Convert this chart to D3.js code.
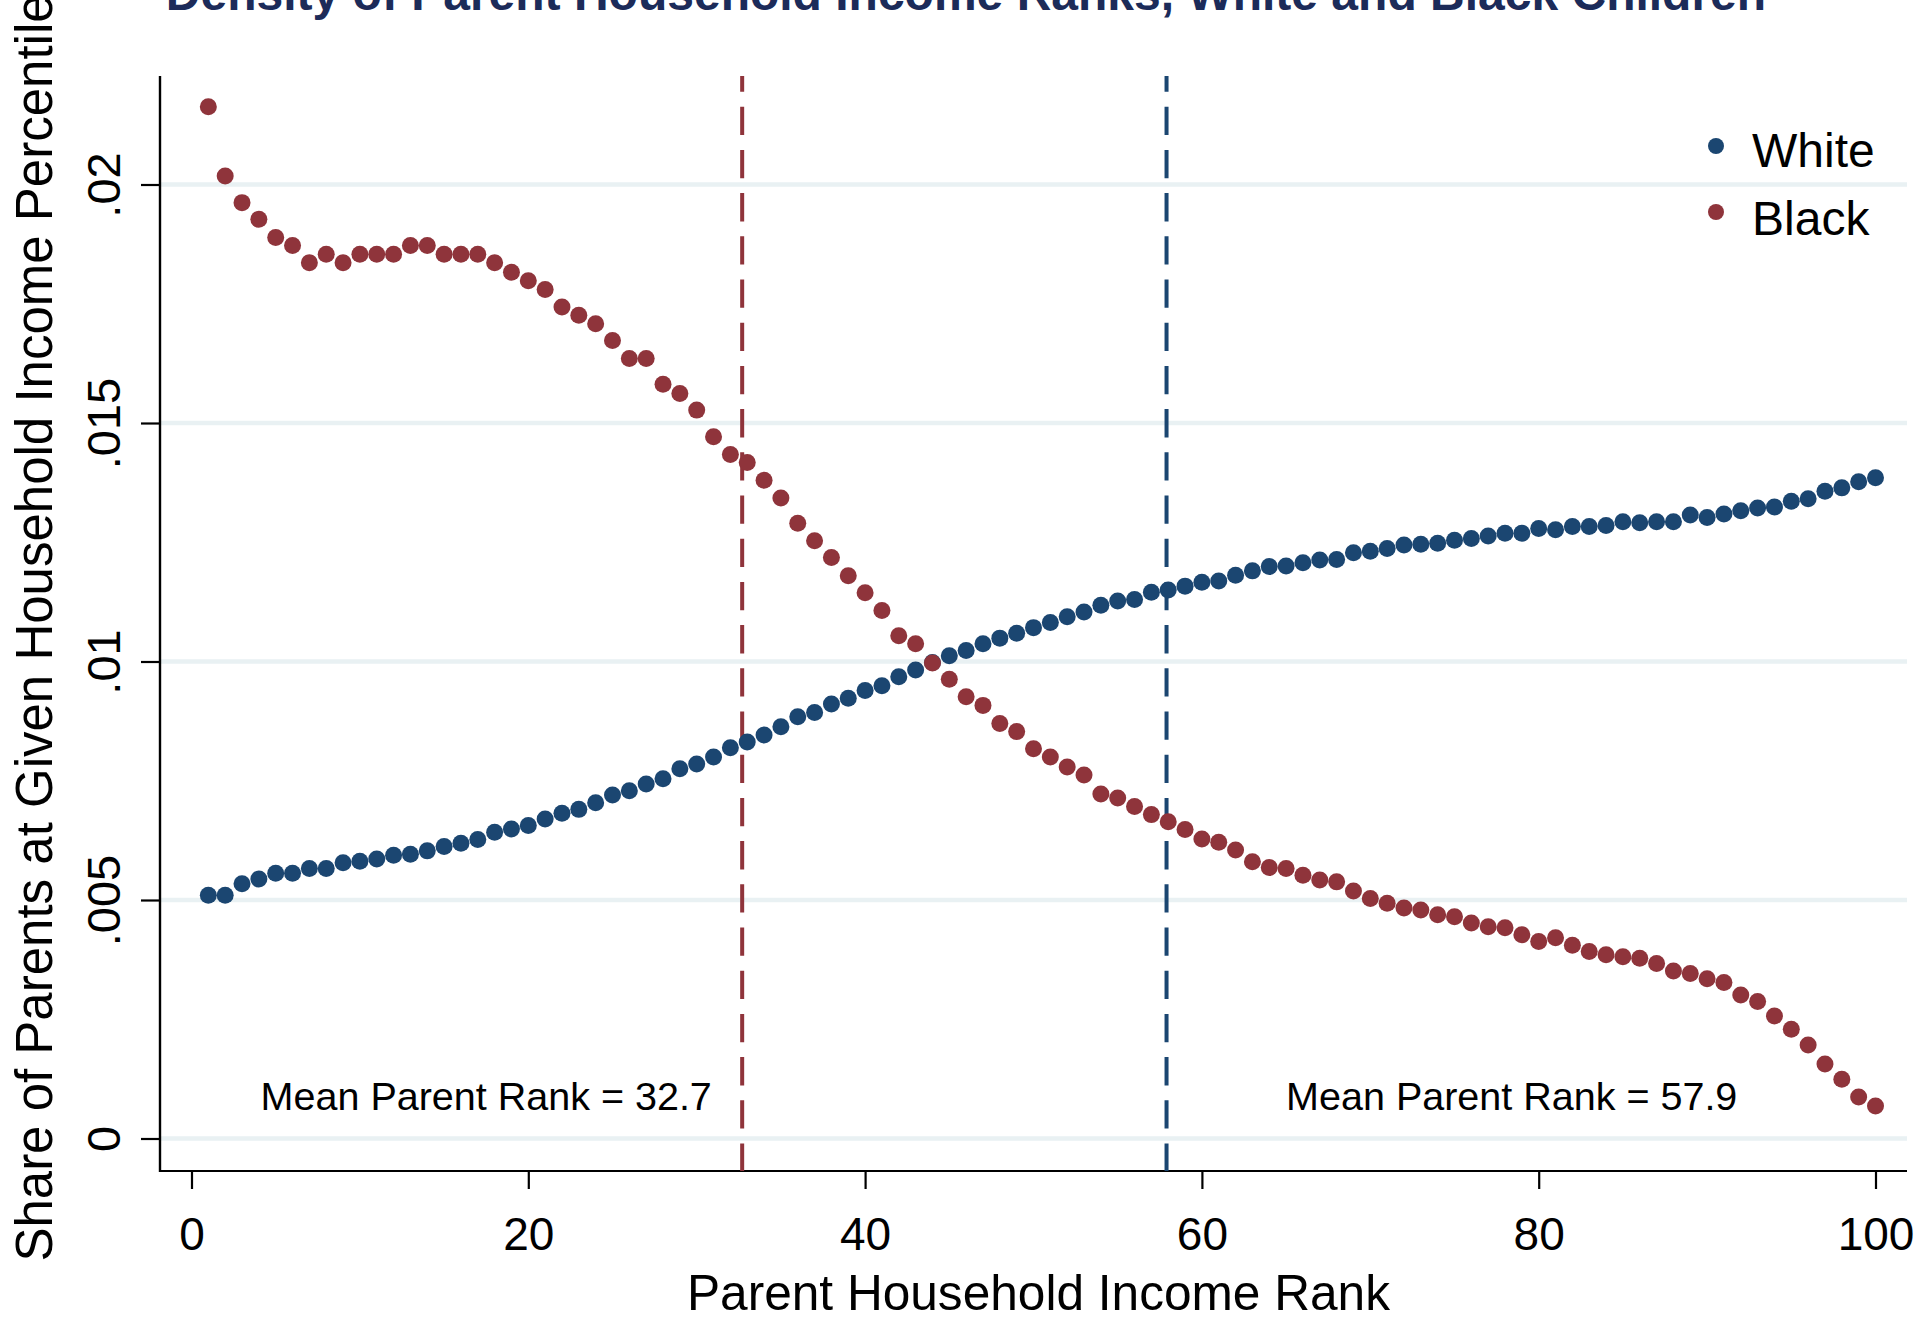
<!DOCTYPE html>
<html>
<head>
<meta charset="utf-8">
<script src="https://cdn.jsdelivr.net/npm/d3@7"></script>
<style>
  html, body { margin: 0; padding: 0; background: #fff; }
  svg { display: block; font-family: "Liberation Sans", Arial, sans-serif; }
</style>
</head>
<body>
<svg id="chart" width="1929" height="1322"></svg>
<script>
const titleText = "Density of Parent Household Income Ranks, White and Black Children";
const xAxisTitle = "Parent Household Income Rank";
const yAxisTitle = "Share of Parents at Given Household Income Percentile";

const ranks = d3.range(1, 101);

const whiteShare = [
  0.00510, 0.00510, 0.00534, 0.00544, 0.00556, 0.00556, 0.00566, 0.00566, 0.00578, 0.00581,
  0.00586, 0.00594, 0.00596, 0.00603, 0.00612, 0.00619, 0.00627, 0.00642, 0.00649, 0.00656,
  0.00670, 0.00682, 0.00690, 0.00704, 0.00720, 0.00729, 0.00743, 0.00754, 0.00775, 0.00785,
  0.00800, 0.00819, 0.00831, 0.00846, 0.00863, 0.00884, 0.00893, 0.00911, 0.00923, 0.00939,
  0.00949, 0.00968, 0.00982, 0.00998, 0.01012, 0.01023, 0.01037, 0.01049, 0.01059, 0.01071,
  0.01082, 0.01094, 0.01104, 0.01118, 0.01127, 0.01130, 0.01145, 0.01150, 0.01158, 0.01166,
  0.01169, 0.01181, 0.01190, 0.01199, 0.01200, 0.01207, 0.01213, 0.01214, 0.01228, 0.01231,
  0.01237, 0.01244, 0.01246, 0.01248, 0.01254, 0.01258, 0.01263, 0.01269, 0.01269, 0.01279,
  0.01276, 0.01283, 0.01283, 0.01285, 0.01293, 0.01291, 0.01293, 0.01293, 0.01307, 0.01302,
  0.01309, 0.01316, 0.01322, 0.01324, 0.01336, 0.01341, 0.01357, 0.01364, 0.01377, 0.01385
];

const blackShare = [
  0.02163, 0.02018, 0.01962, 0.01927, 0.01889, 0.01872, 0.01836, 0.01854, 0.01836, 0.01854,
  0.01854, 0.01854, 0.01872, 0.01872, 0.01854, 0.01854, 0.01854, 0.01836, 0.01816, 0.01798,
  0.01780, 0.01743, 0.01726, 0.01708, 0.01673, 0.01635, 0.01635, 0.01581, 0.01562, 0.01527,
  0.01471, 0.01434, 0.01417, 0.01380, 0.01343, 0.01290, 0.01253, 0.01218, 0.01180, 0.01144,
  0.01107, 0.01054, 0.01037, 0.00997, 0.00963, 0.00926, 0.00908, 0.00870, 0.00853, 0.00817,
  0.00800, 0.00779, 0.00762, 0.00722, 0.00714, 0.00696, 0.00679, 0.00664, 0.00648, 0.00628,
  0.00621, 0.00605, 0.00580, 0.00568, 0.00566, 0.00552, 0.00542, 0.00538, 0.00519, 0.00503,
  0.00493, 0.00483, 0.00479, 0.00469, 0.00465, 0.00452, 0.00444, 0.00442, 0.00427, 0.00413,
  0.00421, 0.00405, 0.00392, 0.00385, 0.00381, 0.00378, 0.00367, 0.00351, 0.00346, 0.00335,
  0.00327, 0.00301, 0.00287, 0.00257, 0.00229, 0.00196, 0.00156, 0.00124, 0.00087, 0.00068
];

const seriesNames = ["White", "Black"];
const seriesColors = ["#1b4671", "#8f343b"];

const meanRanks = [57.9, 32.7];            // White, Black
const meanLabels = ["Mean Parent Rank = 57.9", "Mean Parent Rank = 32.7"];
const meanLabelX = [65.0, 30.9];           // label anchor in rank units
const meanLabelAnchor = ["start", "end"];
const meanLabelY = 0.0006;

const xTicks = [0, 20, 40, 60, 80, 100];
const yTicks = [0, 0.005, 0.01, 0.015, 0.02];
const yTickLabels = ["0", ".005", ".01", ".015", ".02"];

// ---------- layout ----------
const frameLeft = 160, frameRight = 1907, frameTop = 76, frameBottom = 1171;
const x = d3.scaleLinear().domain([0, 100]).range([191.5, 1875.5]);
const y = d3.scaleLinear().domain([0, 0.02]).range([1138.5, 184.5]);

const svg = d3.select("#chart");
svg.append("rect").attr("width", 1929).attr("height", 1322).attr("fill", "#fff");

// gridlines
svg.append("g").selectAll("line").data(yTicks).join("line")
  .attr("x1", frameLeft).attr("x2", frameRight)
  .attr("y1", d => y(d)).attr("y2", d => y(d))
  .attr("stroke", "#e9f1f3").attr("stroke-width", 4.3);

// axes
const xAxis = d3.axisBottom(x).tickValues(xTicks).tickSize(18).tickPadding(8).tickFormat(d3.format("d"));
const gx = svg.append("g").attr("transform", `translate(0,${frameBottom})`).call(xAxis);
gx.select(".domain").remove();
gx.selectAll(".tick line").attr("stroke", "#000").attr("stroke-width", 2.2);
gx.selectAll(".tick text").attr("font-size", 46).attr("fill", "#000")
  .attr("font-family", "Liberation Sans, Arial, sans-serif")
  .attr("dy", null).attr("y", 79);

const yAxis = d3.axisLeft(y).tickValues(yTicks).tickSize(19).tickFormat((d, i) => yTickLabels[i]);
const gy = svg.append("g").attr("transform", `translate(${frameLeft},0)`).call(yAxis);
gy.select(".domain").remove();
gy.selectAll(".tick line").attr("stroke", "#000").attr("stroke-width", 2.2);
gy.selectAll(".tick text")
  .attr("font-size", 47).attr("fill", "#000")
  .attr("font-family", "Liberation Sans, Arial, sans-serif")
  .attr("x", null).attr("dy", null)
  .attr("text-anchor", "middle")
  .attr("transform", "translate(-40,0) rotate(-90)");

// frame lines
svg.append("line").attr("x1", frameLeft).attr("x2", frameLeft)
  .attr("y1", frameTop).attr("y2", frameBottom + 1)
  .attr("stroke", "#000").attr("stroke-width", 2.4);
svg.append("line").attr("x1", frameLeft - 1).attr("x2", frameRight)
  .attr("y1", frameBottom).attr("y2", frameBottom)
  .attr("stroke", "#000").attr("stroke-width", 2.2);

// mean rank dashed lines
svg.append("g").selectAll("line").data(meanRanks).join("line")
  .attr("x1", d => x(d)).attr("x2", d => x(d))
  .attr("y1", frameTop).attr("y2", frameBottom)
  .attr("stroke", (d, i) => seriesColors[i])
  .attr("stroke-width", 4)
  .attr("stroke-dasharray", "28.3,14.9")
  .attr("stroke-dashoffset", 12.5);

// points
const seriesData = [whiteShare, blackShare];
seriesData.forEach((vals, s) => {
  svg.append("g").selectAll("circle").data(ranks).join("circle")
    .attr("cx", d => x(d))
    .attr("cy", (d, i) => y(vals[i]))
    .attr("r", 8.5)
    .attr("fill", seriesColors[s]);
});

// mean annotations
svg.append("g").selectAll("text").data(meanLabels).join("text")
  .attr("x", (d, i) => x(meanLabelX[i]))
  .attr("y", y(meanLabelY))
  .attr("text-anchor", (d, i) => meanLabelAnchor[i])
  .attr("font-size", 39.5).attr("fill", "#000")
  .text(d => d);

// legend
const legend = svg.append("g");
seriesNames.forEach((name, i) => {
  legend.append("circle").attr("cx", 1716).attr("cy", 146 + i * 66).attr("r", 8).attr("fill", seriesColors[i]);
  legend.append("text").attr("x", 1752).attr("y", 167 + i * 68)
    .attr("font-size", 48).attr("fill", "#000").text(name);
});

// titles
svg.append("text").attr("x", 966).attr("y", 10).attr("text-anchor", "middle")
  .attr("font-size", 48).attr("font-weight", "bold").attr("fill", "#1c2b59")
  .text(titleText);

svg.append("text").attr("x", 1038.5).attr("y", 1310).attr("text-anchor", "middle")
  .attr("font-size", 49.6).attr("fill", "#000").text(xAxisTitle);

svg.append("text").attr("transform", "translate(52,628) rotate(-90)")
  .attr("text-anchor", "middle")
  .attr("font-size", 51).attr("fill", "#000").text(yAxisTitle);
</script>
</body>
</html>
